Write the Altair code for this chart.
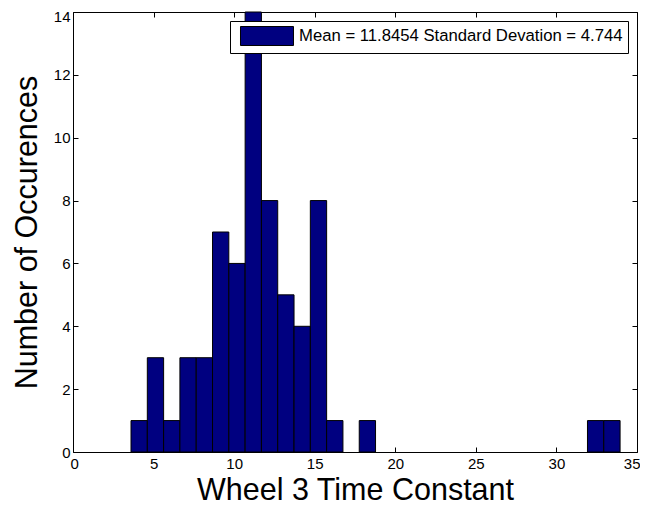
import altair as alt
import numpy as np
import pandas as pd

# ---- data (30 bins from min to max) ----
bin_min = 3.6
bin_max = 33.95
counts = [1, 3, 1, 3, 3, 7, 6, 14, 8, 5, 4, 8, 1, 0, 1,
          0, 0, 0, 0, 0, 0, 0, 0, 0, 0, 0, 0, 0, 1, 1]
legend_label = "Mean = 11.8454 Standard Devation = 4.744"
x_ticks = [0, 5, 10, 15, 20, 25, 30, 35]
y_ticks = [0, 2, 4, 6, 8, 10, 12, 14]
x_title = "Wheel 3 Time Constant"
y_title = "Number of Occurences"

edges = np.linspace(bin_min, bin_max, len(counts) + 1)
df = pd.DataFrame({
    "start": edges[:-1],
    "end": edges[1:],
    "count": counts,
    "series": legend_label,
})
df = df[df["count"] > 0]

FONT = "Arial, Liberation Sans, Helvetica, sans-serif"
xs = alt.Scale(domain=[0, 35], nice=False, zero=False)
ys = alt.Scale(domain=[0, 14], nice=False)

common_axis = dict(
    offset=-5, tickSize=5, domain=False, grid=False, tickColor="black",
    tickWidth=1, labelOverlap=False,
)

bars = alt.Chart(df).mark_rect(stroke="black", strokeWidth=1).encode(
    x=alt.X("start:Q", scale=xs, axis=alt.Axis(
        values=x_ticks, title=x_title, format="d", labelPadding=4,
        labelFlush=True, labelFlushOffset=3,
        labelFont=FONT, labelFontSize=15, labelColor="black",
        titleFont=FONT, titleFontSize=30.5, titleFontWeight="normal",
        titleColor="black", titlePadding=4, **common_axis)),
    x2="end:Q",
    y=alt.Y("count:Q", scale=ys, axis=alt.Axis(
        values=y_ticks, title=y_title, format="d", labelPadding=3,
        labelFlush=False,
        labelOffset=alt.condition("datum.value == 14", alt.value(4), alt.value(0)),
        labelFont=FONT, labelFontSize=15, labelColor="black",
        titleFont=FONT, titleFontSize=30.5, titleFontWeight="normal",
        titleColor="black", titlePadding=11, **common_axis)),
    y2=alt.datum(0),
    color=alt.Color("series:N", scale=alt.Scale(range=["#000080"]), legend=alt.Legend(
        title=None, orient="none", legendX=157, legendY=9,
        symbolType="M-0.474,-1H5.105V1H-0.474Z", symbolSize=361,
        symbolStrokeColor="black", symbolStrokeWidth=1, symbolOpacity=1,
        labelFont=FONT, labelFontSize=16.7, labelColor="black", labelOffset=44,
        labelLimit=1000, padding=5, strokeColor="black", fillColor="white",
    )),
)

frame_ticks = alt.Chart(df).mark_rect(opacity=0).encode(
    x=alt.X("start:Q", scale=xs, axis=alt.Axis(
        orient="top", values=x_ticks, labels=False, title=None,
        labelFlush=False, **common_axis)),
    x2="end:Q",
    y=alt.Y("count:Q", scale=ys, axis=alt.Axis(
        orient="right", values=y_ticks, labels=False, title=None,
        labelFlush=False, **common_axis)),
    y2=alt.datum(0),
)

chart = alt.layer(bars, frame_ticks).resolve_axis(
    x="independent", y="independent"
).properties(
    width=564, height=440,
    autosize=alt.AutoSizeParams(type="none"),
    padding={"left": 65, "top": 4, "right": 3, "bottom": 52},
    background="white",
).configure_view(stroke="black", strokeWidth=1)

chart.save("out.html", embed_options={"renderer": "svg", "actions": False})
